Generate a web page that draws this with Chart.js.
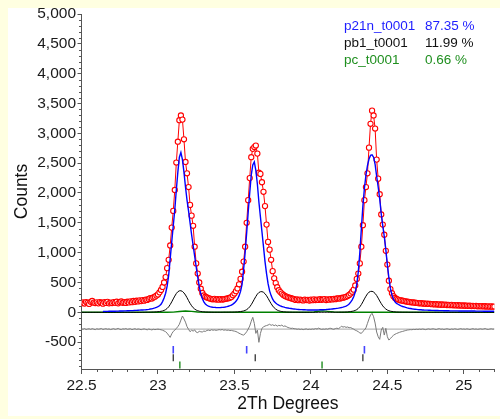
<!DOCTYPE html>
<html>
<head>
<meta charset="utf-8">
<title>Rietveld fit 22.5-25.2</title>
<script src="https://cdn.jsdelivr.net/npm/chart.js@4.4.0/dist/chart.umd.min.js"></script>
<style>
  html, body { margin: 0; padding: 0; background: #ffffe1; }
  #wrap { position: relative; width: 500px; height: 419px; }
  #panel { position: absolute; left: 8px; top: 8px; width: 492px; height: 408px; background: #fff; }
  #plot { position: absolute; left: 0; top: 0; }
</style>
</head>
<body>
<div id="wrap">
  <div id="panel"></div>
  <canvas id="plot" width="500" height="419"></canvas>
</div>
<script>
// scan grid: 22.50 .. 25.20 in 0.01 steps
const START = 22.5;
const STEP = 0.01;

// observed counts
const yObs = [
  150, 165, 148, 172, 158, 140, 176, 190, 162, 155,
  168, 150, 172, 160, 145, 170, 158, 176, 150, 163,
  155, 172, 160, 178, 150, 168, 182, 160, 170, 158,
  178, 165, 185, 170, 190, 176, 195, 182, 200, 188,
  205, 196, 212, 208, 225, 238, 232, 250, 262, 280,
  300, 335, 375, 425, 500, 590, 740, 880, 1120, 1420,
  1700, 2050, 2510, 2860, 3220, 3300, 3230, 2900, 2520, 2330,
  2100, 1800, 1620, 1450, 1100, 820, 650, 500, 395, 325,
  282, 262, 248, 238, 230, 222, 218, 225, 214, 220,
  212, 222, 215, 218, 224, 230, 236, 244, 255, 285,
  315, 355, 400, 470, 560, 680, 850, 1100, 1500, 1880,
  2250, 2600, 2740, 2770, 2795, 2660, 2340, 2320, 2180, 2020,
  1780, 1470, 1180, 1050, 880, 690, 570, 490, 420, 370,
  340, 315, 292, 275, 262, 252, 245, 236, 228, 220,
  208, 215, 204, 212, 206, 200, 214, 205, 210, 198,
  212, 204, 218, 206, 214, 208, 220, 210, 216, 222,
  206, 218, 212, 222, 216, 226, 220, 232, 235, 230,
  240, 245, 252, 260, 272, 290, 315, 345, 380, 450,
  560, 650, 820, 1100, 1460, 1880, 2100, 2330, 2760, 3160,
  3380, 3300, 3080, 2560, 2240, 1980, 1640, 1470, 1300, 1030,
  800, 530, 390, 320, 270, 240, 224, 214, 205, 200,
  194, 188, 184, 178, 175, 170, 168, 165, 160, 158,
  155, 150, 153, 146, 148, 142, 146, 140, 143, 136,
  138, 132, 136, 130, 133, 127, 131, 125, 129, 123,
  126, 120, 124, 118, 122, 116, 120, 114, 118, 112,
  115, 110, 113, 107, 111, 105, 109, 104, 108, 102,
  105, 100, 104, 98, 102, 97, 100, 95, 99, 94, 97
];

// calculated profile, phase p21n_t0001
const yP21n = [
  null, null, null, null, null, null, null, null, null, null,
  null, null, null, null, 15, 15, 16, 16, 17, 17,
  18, 18, 19, 20, 20, 21, 22, 23, 24, 25,
  26, 27, 28, 29, 30, 32, 33, 35, 36, 38,
  40, 41, 43, 46, 50, 55, 60, 66, 74, 84,
  95, 110, 135, 180, 240, 320, 440, 620, 900, 1180,
  1450, 1720, 2050, 2350, 2600, 2680, 2560, 2350, 2100, 1880,
  1700, 1500, 1300, 1120, 940, 760, 590, 430, 310, 230,
  175, 140, 118, 104, 95, 89, 85, 82, 80, 79,
  79, 80, 82, 85, 89, 95, 102, 111, 122, 138,
  158, 185, 220, 275, 350, 470, 720, 1000, 1330, 1680,
  2000, 2300, 2470, 2520, 2380, 2150, 1850, 1600, 1350, 1100,
  850, 650, 480, 360, 280, 220, 180, 155, 135, 120,
  108, 98, 90, 83, 77, 72, 67, 63, 59, 56,
  53, 50, 48, 46, 45, 43, 42, 41, 40, 40,
  39, 39, 39, 40, 40, 41, 42, 43, 44, 46,
  47, 49, 51, 53, 56, 59, 62, 66, 70, 75,
  80, 86, 94, 104, 118, 140, 170, 210, 260, 340,
  470, 680, 1000, 1400, 1780, 2080, 2300, 2460, 2570, 2630,
  2640, 2600, 2480, 2280, 2100, 1900, 1650, 1450, 1270, 1050,
  800, 580, 400, 290, 220, 175, 150, 135, 120, 108,
  98, 90, 82, 75, 69, 64, 59, 55, 52, 49,
  46, 44, 42, 40, 38, 37, 36, 35, 34, 33,
  32, 31, 30, 30, 29, 28, 28, 27, 27, 26,
  26, 25, 25, 25, 24, 24, 24, 23, 23, 23,
  22, 22, 22, 22, 21, 21, 21, 21, 20, 20,
  20, 20, 20, 19, 19, 19, 19, 19, 18, 18, 18
];

// calculated profile, phase pb1_t0001
const yPb1 = [
  0, 0, 0, 0, 0, 0, 0, 0, 0, 0,
  0, 0, 0, 0, 0, 0, 0, 0, 0, 0,
  0, 0, 0, 0, 0, 0, 0, 0, 0, 0,
  0, 0, 0, 0, 0, 0, 0, 0, 0, 0,
  1, 1, 2, 2, 2, 3, 4, 5, 6, 8,
  10, 13, 17, 23, 32, 45, 65, 92, 130, 175,
  225, 272, 315, 345, 360, 362, 350, 325, 290, 245,
  195, 150, 110, 78, 55, 38, 27, 19, 14, 10,
  8, 6, 5, 4, 3, 3, 2, 2, 2, 2,
  2, 2, 2, 3, 3, 3, 3, 4, 4, 4,
  5, 6, 7, 10, 13, 17, 23, 32, 45, 65,
  92, 128, 172, 220, 265, 305, 332, 345, 347, 336,
  312, 278, 235, 188, 145, 106, 76, 54, 37, 26,
  18, 13, 9, 7, 5, 4, 3, 3, 2, 2,
  2, 2, 1, 1, 1, 1, 1, 1, 1, 1,
  1, 1, 1, 1, 1, 1, 1, 1, 1, 1,
  1, 1, 1, 1, 2, 2, 2, 2, 2, 3,
  3, 3, 4, 5, 6, 10, 13, 17, 23, 32,
  45, 65, 92, 130, 175, 225, 270, 310, 338, 350,
  352, 340, 316, 282, 238, 190, 147, 108, 78, 55,
  38, 27, 19, 14, 10, 7, 5, 4, 3, 3,
  2, 2, 2, 2, 1, 1, 1, 1, 1, 1,
  0, 0, 0, 0, 0, 0, 0, 0, 0, 0,
  0, 0, 0, 0, 0, 0, 0, 0, 0, 0,
  0, 0, 0, 0, 0, 0, 0, 0, 0, 0,
  0, 0, 0, 0, 0, 0, 0, 0, 0, 0,
  0, 0, 0, 0, 0, 0, 0, 0, 0, 0, 0
];

// calculated profile, phase pc_t0001 (only a few weak bumps)
const pcX = [22.5, 23.06, 23.10, 23.14, 23.18, 23.22, 23.26, 23.32, 23.98, 24.02, 24.05, 24.08, 24.11, 24.15, 24.20, 25.2];
const pcY = [0, 0, 4, 14, 22, 16, 6, 0, 0, 6, 18, 24, 16, 5, 0, 0];

// difference curve (obs - calc), plotted with an offset below zero
const DIFF_BASE = -280;
const yDiff = [
  -278, -284, -272, -288, -280, -276, -286, -274, -282, -290,
  -276, -283, -279, -271, -287, -280, -275, -284, -278, -289,
  -281, -274, -286, -279, -270, -283, -288, -277, -281, -273,
  -285, -280, -276, -290, -282, -275, -287, -279, -284, -291,
  -283, -278, -286, -293, -280, -288, -295, -284, -290, -286,
  -282, -287, -292, -300, -312, -325, -350, -385, -420, -360,
  -320, -300, -270, -240, -200, -130, -62, -110, -165, -240,
  -285, -325, -300, -315, -295, -332, -340, -318, -326, -330,
  -314, -320, -304, -298, -306, -292, -300, -295, -302, -297,
  -290, -296, -288, -300, -294, -302, -298, -306, -303, -310,
  -315, -322, -335, -350, -362, -375, -381, -360, -325, -280,
  -230, -150, -84, -185, -353, -297, -503, -353, -268, -245,
  -230, -222, -213, -200, -218, -208, -224, -212, -232, -218,
  -226, -214, -236, -228, -240, -255, -262, -270, -266, -275,
  -276, -284, -279, -287, -281, -290, -283, -278, -288, -282,
  -286, -279, -284, -272, -281, -265, -277, -286, -280, -284,
  -276, -283, -270, -268, -279, -285, -272, -266, -274, -258,
  -232, -248, -240, -252, -246, -258, -256, -270, -282, -300,
  -310, -325, -345, -353, -320, -297, -260, -185, -110, -45,
  -17, -74, -180, -330, -409, -453, -297, -252, -381, -268,
  -409, -465, -440, -409, -385, -368, -355, -345, -335, -326,
  -320, -312, -305, -297, -294, -290, -292, -286, -289, -283,
  -287, -281, -286, -279, -284, -290, -282, -277, -285, -280,
  -276, -283, -288, -279, -274, -284, -280, -287, -281, -276,
  -282, -288, -279, -285, -276, -281, -287, -280, -274, -283,
  -279, -285, -276, -282, -288, -280, -275, -284, -279, -286,
  -281, -276, -284, -279, -272, -283, -287, -280, -276, -282, -279
];

// reflection positions (tick marks under the pattern)
const hklP21n = [23.10, 23.58, 24.35];
const hklPb1 = [23.10, 23.636, 24.34];
const hklPc = [23.143, 24.073];
const HKL_ROWS = [-628, -760, -884];

// axes
const xTicks = [22.5, 23, 23.5, 24, 24.5, 25];
const yTicks = [-500, 0, 500, 1000, 1500, 2000, 2500, 3000, 3500, 4000, 4500, 5000];

// phase list in the corner
const phaseNames = ['p21n_t0001', 'pb1_t0001', 'pc_t0001'];
const phasePct = ['87.35 %', '11.99 %', '0.66 %'];
const phaseColors = ['#1e1eff', '#111111', '#1f8f1f'];

const FONT = 'Liberation Sans';
const AXIS = '#555555';

function onGrid(ys) {
  return ys.map((y, i) => ({ x: +(START + i * STEP).toFixed(2), y: y }));
}
function pairs(xs, ys) {
  return xs.map((x, i) => ({ x: x, y: ys[i] }));
}
function marks(xs, y) {
  return xs.map(x => ({ x: x, y: y }));
}

const lineDefaults = { pointRadius: 0, tension: 0, fill: false, spanGaps: false };

// small ticks between the labelled ones
const minorTicks = {
  id: 'minorTicks',
  afterDraw(chart) {
    const { ctx, chartArea, scales } = chart;
    ctx.save();
    ctx.strokeStyle = AXIS;
    ctx.lineWidth = 1;
    ctx.beginPath();
    for (let v = -900; v <= 5000; v += 100) {
      if (v % 500 === 0) continue;
      const py = Math.round(scales.y.getPixelForValue(v)) + 0.5;
      ctx.moveTo(chartArea.left, py);
      ctx.lineTo(chartArea.left - 2.5, py);
    }
    for (let k = 226; k <= 252; k++) {
      if (k % 5 === 0) continue;
      const px = Math.round(scales.x.getPixelForValue(k / 10)) + 0.5;
      ctx.moveTo(px, chartArea.bottom);
      ctx.lineTo(px, chartArea.bottom + 3);
    }
    ctx.stroke();
    ctx.restore();
  }
};

// phase names and weight fractions
const phaseLegend = {
  id: 'phaseLegend',
  afterDraw(chart) {
    const ctx = chart.ctx;
    ctx.save();
    ctx.font = '13.5px "' + FONT + '"';
    ctx.textBaseline = 'middle';
    phaseNames.forEach((name, i) => {
      ctx.fillStyle = phaseColors[i];
      ctx.fillText(name, 344, 26 + i * 17);
      ctx.fillText(phasePct[i], 425, 26 + i * 17);
    });
    ctx.restore();
  }
};

new Chart(document.getElementById('plot'), {
  type: 'line',
  data: {
    datasets: [
      Object.assign({ label: 'p21n_t0001', data: onGrid(yP21n), borderColor: '#0000ff', borderWidth: 1.4, order: 1 }, lineDefaults),
      {
        label: 'Yobs', data: onGrid(yObs), borderColor: '#ff0000', borderWidth: 1,
        pointRadius: 2.6, pointBackgroundColor: '#ffffff', pointBorderColor: '#ff0000', pointBorderWidth: 1.1,
        tension: 0, fill: false, order: 2
      },
      Object.assign({ label: 'pb1_t0001', data: onGrid(yPb1), borderColor: '#000000', borderWidth: 1, order: 3 }, lineDefaults),
      Object.assign({ label: 'pc_t0001', data: pairs(pcX, pcY), borderColor: '#008000', borderWidth: 1.4, order: 4 }, lineDefaults),
      Object.assign({ label: 'Diff', data: onGrid(yDiff), borderColor: '#7a7a7a', borderWidth: 1, order: 5 }, lineDefaults),
      Object.assign({ label: 'Diff zero', data: [{ x: 22.5, y: DIFF_BASE }, { x: 25.2, y: DIFF_BASE }], borderColor: '#b9b9b9', borderWidth: 1.2, order: 6 }, lineDefaults),
      { type: 'scatter', label: 'hkl p21n', data: marks(hklP21n, HKL_ROWS[0]), pointStyle: 'line', rotation: 90, pointRadius: 3.7, borderColor: '#4444ff', borderWidth: 1.6, order: 7 },
      { type: 'scatter', label: 'hkl pb1', data: marks(hklPb1, HKL_ROWS[1]), pointStyle: 'line', rotation: 90, pointRadius: 3.5, borderColor: '#222222', borderWidth: 1.2, order: 7 },
      { type: 'scatter', label: 'hkl pc', data: marks(hklPc, HKL_ROWS[2]), pointStyle: 'line', rotation: 90, pointRadius: 3.5, borderColor: '#3a9a3a', borderWidth: 1.6, order: 7 }
    ]
  },
  options: {
    responsive: false,
    animation: false,
    devicePixelRatio: 1,
    events: [],
    layout: { padding: { top: 14, right: 2.5, bottom: 0, left: 0 } },
    plugins: { legend: { display: false }, tooltip: { enabled: false } },
    scales: {
      x: {
        type: 'linear',
        position: 'bottom',
        min: 22.5,
        max: 25.2,
        border: { display: true, color: AXIS, width: 1 },
        grid: { drawOnChartArea: false, drawTicks: true, tickLength: 5, tickColor: AXIS },
        ticks: {
          includeBounds: false, maxRotation: 0, padding: 2, color: '#1a1a1a',
          font: { family: FONT, size: 15.5 },
          callback: v => String(v)
        },
        title: {
          display: true, text: '2Th Degrees', color: '#111111',
          font: { family: FONT, size: 17.5 }, padding: { top: 0, bottom: 4 }
        },
        afterBuildTicks: s => { s.ticks = xTicks.map(v => ({ value: v })); },
        afterFit: s => { s.height = 50; }
      },
      y: {
        type: 'linear',
        min: -950,
        max: 5000,
        border: { display: true, color: AXIS, width: 1 },
        grid: { drawOnChartArea: false, drawTicks: true, tickLength: 4, tickColor: AXIS },
        ticks: {
          includeBounds: false, padding: 1.5, color: '#1a1a1a',
          font: { family: FONT, size: 15.5 },
          callback: v => v.toLocaleString('en-US')
        },
        title: {
          display: true, text: 'Counts', color: '#111111',
          font: { family: FONT, size: 17.5 }, padding: { top: 12, bottom: 0 }
        },
        afterBuildTicks: s => { s.ticks = yTicks.map(v => ({ value: v })); },
        afterFit: s => { s.width = 81.5; }
      }
    }
  },
  plugins: [minorTicks, phaseLegend]
});
</script>
</body>
</html>
